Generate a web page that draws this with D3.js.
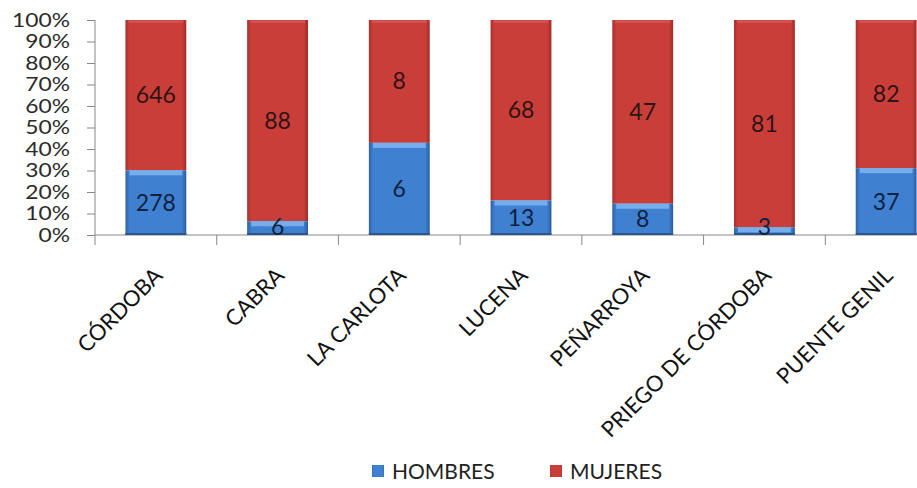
<!DOCTYPE html>
<html><head><meta charset="utf-8">
<script src="https://cdn.jsdelivr.net/npm/d3@7"></script>
<style>body{margin:0;background:#fff}text{font-family:Lato,"Open Sans",sans-serif}</style>
</head><body><svg id="c" width="917" height="488"></svg>
<script>
const categories = ["CÓRDOBA","CABRA","LA CARLOTA","LUCENA","PEÑARROYA","PRIEGO DE CÓRDOBA","PUENTE GENIL"];
const hombres = [278,6,6,13,8,3,37];
const mujeres = [646,88,8,68,47,81,82];
const yTicks = [0,0.1,0.2,0.3,0.4,0.5,0.6,0.7,0.8,0.9,1];
const seriesNames = ["HOMBRES","MUJERES"];

const svg = d3.select("#c");
const x = d3.scaleBand().domain(categories).range([95,947]).paddingInner(0.5).paddingOuter(0.25);
const y = d3.scaleLinear().domain([0,1]).range([235,20]);

const defs = svg.append("defs");
function grad(id, c1, c2, c3){
  const g = defs.append("linearGradient").attr("id",id).attr("x1",0).attr("x2",1).attr("y1",0).attr("y2",0);
  g.append("stop").attr("offset","0").attr("stop-color",c1);
  g.append("stop").attr("offset","0.07").attr("stop-color",c2);
  g.append("stop").attr("offset","0.93").attr("stop-color",c2);
  g.append("stop").attr("offset","1").attr("stop-color",c3);
}
grad("gb","#2f62a8","#3f80d0","#2c5a9c");
grad("gr","#a8302c","#ca3e39","#a02b27");

// axes
const yAxis = d3.axisLeft(y).tickValues(yTicks).tickFormat(d3.format(".0%")).tickSize(8).tickPadding(17);
const gy = svg.append("g").attr("transform","translate(95,0)").call(yAxis);
gy.select(".domain").attr("stroke","#888").attr("d","M-0,20V235");
gy.selectAll(".tick line").attr("stroke","#888");
const sx = 1.2;
gy.selectAll(".tick text").attr("font-size",19).attr("fill","#2a2a2a")
  .attr("font-family","'Liberation Sans',Arial,sans-serif")
  .attr("x",-25/sx).attr("transform",`scale(${sx},1)`);

svg.append("line").attr("x1",95).attr("x2",917).attr("y1",235).attr("y2",235).attr("stroke","#888");
const step = x.step();
const bounds = d3.range(categories.length+1).map(i=>95+i*step);
svg.selectAll(".xt").data(bounds).join("line").attr("x1",d=>d).attr("x2",d=>d).attr("y1",235).attr("y2",245).attr("stroke","#888");

const data = categories.map((c,i)=>{const t=hombres[i]+mujeres[i];return {c,h:hombres[i],m:mujeres[i],ph:hombres[i]/t};});

// bars
const g = svg.append("g");
data.forEach(d=>{
  const x0 = x(d.c), w = x.bandwidth();
  g.append("rect").attr("x",x0).attr("y",y(1)).attr("width",w).attr("height",y(d.ph)-y(1)).attr("fill","url(#gr)");
  g.append("rect").attr("x",x0+3).attr("y",y(1)).attr("width",w-6).attr("height",3).attr("fill","#d85550").attr("opacity",0.8);
  g.append("rect").attr("x",x0).attr("y",y(d.ph)).attr("width",w).attr("height",y(0)-y(d.ph)).attr("fill","url(#gb)");
  g.append("rect").attr("x",x0+4).attr("y",y(d.ph)).attr("width",w-8).attr("height",Math.min(5,y(0)-y(d.ph))).attr("fill","#7fb6f0").attr("opacity",0.85);
  g.append("rect").attr("x",x0).attr("y",y(0)-2).attr("width",w).attr("height",2).attr("fill","#2a5590");
  g.append("text").attr("x",x0+w/2).attr("y",(y(1)+y(d.ph))/2).attr("dy","0.35em").attr("text-anchor","middle").attr("font-size",23).attr("fill","#2e1414").text(d.m);
  g.append("text").attr("x",x0+w/2).attr("y",Math.min((y(d.ph)+y(0))/2,227)).attr("dy","0.35em").attr("text-anchor","middle").attr("font-size",23).attr("fill","#10213e").text(d.h);
});

// category labels
svg.selectAll(".cl").data(categories).join("text")
  .attr("transform",d=>`translate(${x(d)+x.bandwidth()/2+8},277) rotate(-45)`)
  .attr("text-anchor","end").attr("font-size",22).attr("fill","#111").text(d=>d);

// legend
const leg = [{n:seriesNames[0],f:"url(#gb)",x:372},{n:seriesNames[1],f:"url(#gr)",x:550}];
leg.forEach(l=>{
  svg.append("rect").attr("x",l.x).attr("y",465).attr("width",12).attr("height",12).attr("fill",l.f);
  svg.append("text").attr("x",l.x+20).attr("y",479).attr("font-size",21).attr("fill","#222").text(l.n);
});
</script></body></html>
